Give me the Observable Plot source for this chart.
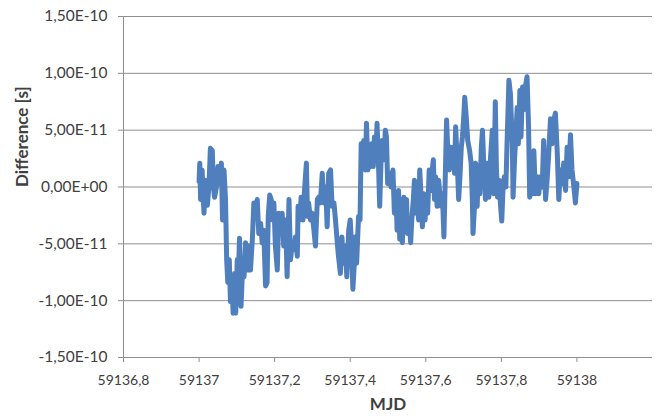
<!DOCTYPE html>
<html>
<head>
<meta charset="utf-8">
<script src="https://cdn.jsdelivr.net/npm/d3@7"></script>
<script src="https://cdn.jsdelivr.net/npm/@observablehq/plot@0.6"></script>
<style>
  html, body { margin: 0; padding: 0; background: #fff; }
</style>
</head>
<body>
<div id="chart"></div>
<script>
// Time stamps (MJD) of the clock comparison samples
const mjd = [
  59137.000, 59137.002, 59137.004, 59137.008, 59137.013, 59137.017, 59137.022, 59137.026, 59137.030, 59137.035,
  59137.038, 59137.041, 59137.046, 59137.050, 59137.054, 59137.059, 59137.062, 59137.066, 59137.070, 59137.073,
  59137.076, 59137.080, 59137.083, 59137.087, 59137.090, 59137.094, 59137.097, 59137.101, 59137.104, 59137.107,
  59137.111, 59137.115, 59137.119, 59137.123, 59137.128, 59137.132, 59137.136, 59137.141, 59137.145, 59137.149,
  59137.154, 59137.158, 59137.163, 59137.167, 59137.171, 59137.176, 59137.180, 59137.183, 59137.187, 59137.191,
  59137.194, 59137.198, 59137.202, 59137.207, 59137.211, 59137.216, 59137.220, 59137.224, 59137.229, 59137.233,
  59137.238, 59137.242, 59137.247, 59137.251, 59137.255, 59137.260, 59137.262, 59137.267, 59137.270, 59137.275,
  59137.279, 59137.284, 59137.287, 59137.290, 59137.295, 59137.299, 59137.304, 59137.308, 59137.313, 59137.317,
  59137.321, 59137.326, 59137.330, 59137.335, 59137.339, 59137.343, 59137.348, 59137.352, 59137.357, 59137.361,
  59137.366, 59137.369, 59137.374, 59137.378, 59137.382, 59137.387, 59137.391, 59137.396, 59137.400, 59137.404,
  59137.407, 59137.411, 59137.413, 59137.417, 59137.422, 59137.426, 59137.429, 59137.433, 59137.436, 59137.440,
  59137.443, 59137.447, 59137.450, 59137.454, 59137.457, 59137.461, 59137.464, 59137.468, 59137.471, 59137.475,
  59137.478, 59137.482, 59137.485, 59137.489, 59137.493, 59137.496, 59137.499, 59137.504, 59137.508, 59137.513,
  59137.517, 59137.522, 59137.524, 59137.528, 59137.531, 59137.535, 59137.538, 59137.542, 59137.546, 59137.549,
  59137.552, 59137.556, 59137.560, 59137.563, 59137.567, 59137.570, 59137.574, 59137.577, 59137.581, 59137.584,
  59137.588, 59137.591, 59137.595, 59137.598, 59137.602, 59137.605, 59137.609, 59137.612, 59137.616, 59137.620,
  59137.623, 59137.626, 59137.630, 59137.634, 59137.637, 59137.641, 59137.644, 59137.648, 59137.651, 59137.655,
  59137.658, 59137.662, 59137.665, 59137.669, 59137.672, 59137.676, 59137.679, 59137.683, 59137.687, 59137.690,
  59137.694, 59137.697, 59137.701, 59137.703, 59137.707, 59137.711, 59137.716, 59137.720, 59137.723, 59137.725,
  59137.729, 59137.732, 59137.736, 59137.739, 59137.743, 59137.747, 59137.750, 59137.753, 59137.758, 59137.762,
  59137.767, 59137.771, 59137.776, 59137.780, 59137.784, 59137.787, 59137.790, 59137.794, 59137.798, 59137.801,
  59137.805, 59137.808, 59137.812, 59137.815, 59137.820, 59137.824, 59137.829, 59137.831, 59137.835, 59137.838,
  59137.842, 59137.845, 59137.849, 59137.852, 59137.856, 59137.859, 59137.864, 59137.868, 59137.872, 59137.875,
  59137.879, 59137.882, 59137.886, 59137.890, 59137.895, 59137.899, 59137.903, 59137.908, 59137.912, 59137.917,
  59137.921, 59137.925, 59137.930, 59137.934, 59137.939, 59137.943, 59137.948, 59137.952, 59137.956, 59137.961,
  59137.965, 59137.970, 59137.974, 59137.978, 59137.983, 59137.987, 59137.992, 59137.996, 59138.000
];

// Time difference at each sample, in picoseconds
const diffPs = [
    5,   21,  -11,   15,  -23,    6,  -16,    0,   34,   32,
    0,   -9,    0,   18,    3,   21,  -29,   15,  -11,  -64,
  -84,  -64, -101,  -79, -111,  -76, -111,  -64,  -79,  -45,
 -105,  -73,  -79,  -49,  -73,  -52,  -73,  -46,  -14,  -26,
  -11,  -41,  -32,  -49,  -38,  -87,  -84,  -26,   -7,  -11,
  -29,  -14,  -52,  -73,  -23,  -38,  -23,  -52,  -29,  -79,
  -11,  -64,  -49,  -55,  -44,  -61,  -17,  -29,   -9,  -29,
   -3,   21,  -26,  -14,  -29,  -23,  -38,  -52,  -11,   -9,
  -14,   12,  -14,    0,  -35,   12,   15,  -17,  -14,  -29,
  -50,  -61,  -76,  -44,  -67,  -52,  -79,  -38,  -29,  -55,
  -90,  -67,  -44,  -67,  -26,  -29,   38,   18,   41,   15,
   56,   15,   35,   18,   38,   18,   44,   27,   56,   18,
  -17,   27,   41,   24,   50,   44,    3,   12,    0,   15,
  -23,  -14,  -38,   -3,  -46,  -11,  -49,   -9,  -35,  -11,
  -41,  -29,  -49,  -29,  -11,    6,  -23,   -6,  -29,   15,
  -11,  -35,   -6,  -29,   -9,  -23,   15,   -3,   12,   24,
  -11,    9,  -17,    6,   -6,  -17,   -6,  -44,    0,   59,
   35,   15,   35,   21,   35,   12,   53,   24,  -11,    6,
   35,   44,   65,   79,   62,   41,   32,   21,   -9,  -41,
  -17,   21,  -17,   12,   -6,   35,   50,   24,  -11,   21,
   -9,   24,   50,   -6,   75,   15,   -9,    6,  -17,  -30,
    3,    9,    0,   38,   94,   82,   38,   -9,   24,   44,
   70,   38,   85,   44,   88,   68,   89,   97,   53,   -9,
    0,   -6,   32,   -6,    9,   -6,    9,    0,   41,  -11,
    6,   27,   60,   38,   59,   65,   30,  -11,   15,    3,
   21,   -3,   35,    9,   46,   15,    0,  -14,    3
];

// Axis ticks
const xTicks = [59136.8, 59137, 59137.2, 59137.4, 59137.6, 59137.8, 59138];
const yTicks = [-1.5e-10, -1e-10, -5e-11, 0, 5e-11, 1e-10, 1.5e-10];

// Axis titles
const xTitle = "MJD";
const yTitle = "Difference [s]";

const rows = mjd.map((t, i) => ({mjd: t, diff: diffPs[i] * 1e-12}));

// Spreadsheet-style scientific notation with a decimal comma: 5,00E-11
function sci(v) {
  if (v === 0) return "0,00E+00";
  const e = Math.floor(Math.log10(Math.abs(v)) + 1e-9);
  const m = v / Math.pow(10, e);
  const exp = (e < 0 ? "-" : "+") + String(Math.abs(e)).padStart(2, "0");
  return m.toFixed(2).replace(".", ",") + "E" + exp;
}

// Plain number with a decimal comma: 59137,2
function dec(v) {
  return String(+v.toFixed(6)).replace(".", ",");
}

const gray = "#8f8f8f";
const ink = "#404040";

const chart = Plot.plot({
  width: 657,
  height: 419,
  marginLeft: 123,
  marginRight: 5,
  marginTop: 16,
  marginBottom: 62,
  x: {domain: [59136.8, 59138.2]},
  y: {domain: [-1.5e-10, 1.5e-10]},
  style: {fontFamily: "Lato, 'Open Sans', sans-serif", fontSize: "14px", color: ink, background: "#fff"},
  marks: [
    Plot.gridY(yTicks, {stroke: gray, strokeOpacity: 1}),
    Plot.ruleX([59136.8], {stroke: gray}),
    Plot.ruleY([-1.5e-10], {stroke: gray}),
    Plot.axisY(yTicks, {tickSize: 5, tickPadding: 11, tickFormat: sci, stroke: gray, color: ink, fontSize: 15.5, label: null}),
    Plot.axisX(xTicks, {tickSize: 5, tickPadding: 13, tickFormat: dec, stroke: gray, color: ink, label: null}),
    Plot.line(rows, {
      x: "mjd", y: "diff",
      stroke: "#4F7FBC", strokeWidth: 5,
      strokeLinejoin: "round", strokeLinecap: "round"
    }),
    Plot.text([yTitle], {
      text: d => d, frameAnchor: "left", dx: -101, rotate: -90,
      fontWeight: "bold", fontSize: 17, fill: ink
    }),
    Plot.text([xTitle], {
      text: d => d, frameAnchor: "bottom", dy: 52,
      fontWeight: "bold", fontSize: 17, fill: ink
    })
  ]
});

document.getElementById("chart").appendChild(chart);
</script>
</body>
</html>
